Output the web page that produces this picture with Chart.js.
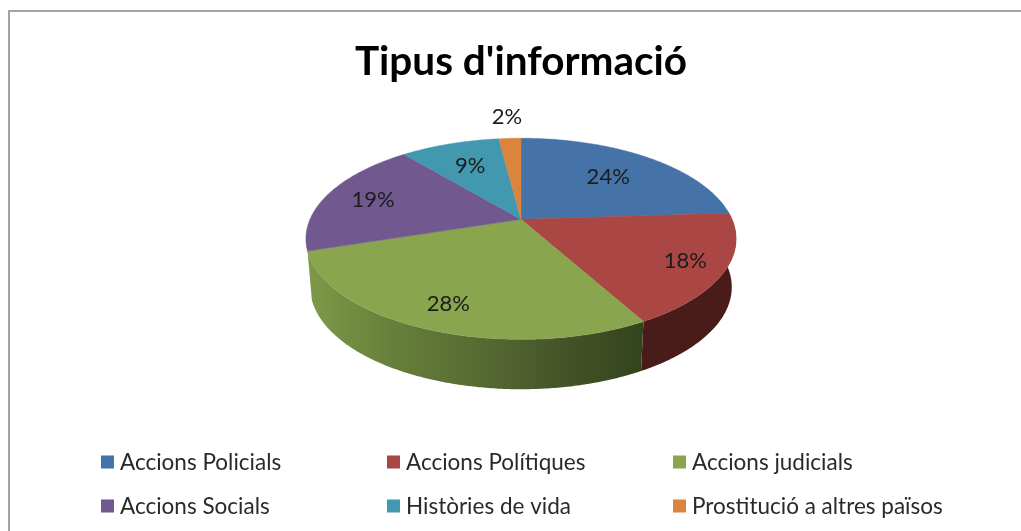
<!DOCTYPE html>
<html>
<head>
<meta charset="utf-8">
<title>Tipus d'informació</title>
<script src="https://cdn.jsdelivr.net/npm/chart.js@4"></script>
<style>
  html, body { margin: 0; padding: 0; background: #fff; overflow: hidden; }
  #wrap { position: relative; width: 1021px; height: 531px; overflow: hidden; filter: blur(0.4px); }
  #frame { position: absolute; left: 8px; top: 10px; right: -4px; bottom: -4px;
           border: 2px solid #a3a3a3; pointer-events: none; }
</style>
</head>
<body>
<div id="wrap">
  <canvas id="chart" width="1021" height="531"></canvas>
  <div id="frame"></div>
</div>
<script>
const chartTitle = "Tipus d'informació";
const categories = ["Accions Policials", "Accions Polítiques", "Accions judicials",
                    "Accions Socials", "Històries de vida", "Prostitució a altres països"];
const values = [24, 18, 28, 19, 9, 2];
const colors = ["#4572A7", "#AA4643", "#89A54E", "#71588F", "#4198AF", "#DB843D"];
const wallColors = [
  ["#2a4568", "#2a4568"],
  ["#4a1c19", "#4a1c19"],
  ["#7e9a48", "#66803b", "#586b32", "#465429", "#33431c"],
  ["#46365a", "#46365a"],
  ["#285f6e", "#285f6e"],
  ["#8a5326", "#8a5326"]
];
// how far out each label sits along its slice (1 = rim)
const labelRadius = [0.66, 0.82, 0.8, 0.76, 0.68, 1.33];

// perspective of the tilted pie, relative to the library's arc radius
const PERSP = -0.194;
const TOP_FACE = { scale: 1, tilt: 0.257, drop: 0 };
const BOTTOM_FACE = { scale: 0.98, tilt: 0.22, drop: 48 };

function project(arc, angle, t, face) {
  const u = Math.cos(angle) * t, v = Math.sin(angle) * t;
  const w = 1 + PERSP * v;
  return {
    x: arc.x + arc.outerRadius * face.scale * u / w,
    y: (arc.y + face.drop + arc.outerRadius * face.tilt * v) / w
  };
}

function traceRim(ctx, arc, from, to, face) {
  const steps = Math.max(2, Math.ceil(Math.abs(to - from) / 0.01));
  for (let i = 0; i <= steps; i++) {
    const p = project(arc, from + (to - from) * i / steps, 1, face);
    ctx.lineTo(p.x, p.y);
  }
}

const pie3d = {
  id: "pie3d",
  beforeDatasetDraw(chart) {
    const ctx = chart.ctx;
    const arcs = chart.getDatasetMeta(0).data;
    ctx.save();
    // side wall only for the slices facing the viewer
    arcs.forEach((arc, i) => {
      if (Math.sin((arc.startAngle + arc.endAngle) / 2) <= 0) return;
      const a = project(arc, arc.startAngle, 1, TOP_FACE);
      const b = project(arc, arc.endAngle, 1, TOP_FACE);
      const x0 = Math.min(a.x, b.x), x1 = Math.max(a.x, b.x);
      const grad = ctx.createLinearGradient(x0, 0, x1 + 1, 0);
      wallColors[i].forEach((c, k) => grad.addColorStop(k / (wallColors[i].length - 1), c));
      ctx.beginPath();
      traceRim(ctx, arc, arc.startAngle, arc.endAngle, TOP_FACE);
      traceRim(ctx, arc, arc.endAngle, arc.startAngle, BOTTOM_FACE);
      ctx.closePath();
      ctx.fillStyle = grad;
      ctx.fill();
    });
    arcs.forEach((arc, i) => {
      const c = project(arc, 0, 0, TOP_FACE);
      ctx.beginPath();
      ctx.moveTo(c.x, c.y);
      traceRim(ctx, arc, arc.startAngle, arc.endAngle, TOP_FACE);
      ctx.closePath();
      ctx.fillStyle = colors[i];
      ctx.strokeStyle = colors[i];
      ctx.lineWidth = 0.5;
      ctx.fill();
      ctx.stroke();
    });
    ctx.restore();
    return false;
  },
  afterDatasetsDraw(chart) {
    const ctx = chart.ctx;
    const arcs = chart.getDatasetMeta(0).data;
    const total = values.reduce((s, v) => s + v, 0);
    ctx.save();
    ctx.font = "22px Lato";
    ctx.fillStyle = "#1c1c1c";
    ctx.textAlign = "center";
    ctx.textBaseline = "middle";
    arcs.forEach((arc, i) => {
      const mid = (arc.startAngle + arc.endAngle) / 2;
      const p = project(arc, mid, labelRadius[i], TOP_FACE);
      ctx.fillText(Math.round(values[i] / total * 100) + "%", p.x, p.y);
    });
    ctx.restore();
  },
  afterDraw(chart) {
    // legend in three aligned columns, which the built in one can't do
    const ctx = chart.ctx;
    ctx.save();
    ctx.font = "22.5px Lato";
    ctx.textBaseline = "middle";
    categories.forEach((name, i) => {
      const x = 101 + (i % 3) * 286;
      const y = 462 + Math.floor(i / 3) * 44;
      ctx.fillStyle = colors[i];
      ctx.fillRect(x, y - 6.5, 13, 13);
      ctx.fillStyle = "#2a2a2a";
      ctx.fillText(name, x + 19, y + 1);
    });
    ctx.restore();
  }
};

new Chart(document.getElementById("chart"), {
  type: "pie",
  data: {
    labels: categories,
    datasets: [{ data: values, backgroundColor: colors, borderWidth: 0 }]
  },
  options: {
    responsive: false,
    animation: false,
    radius: 211,
    layout: { padding: { left: 21, bottom: 183 } },
    plugins: {
      legend: { display: false },
      tooltip: { enabled: false },
      title: {
        display: true,
        text: chartTitle,
        color: "#000",
        fullSize: false,
        font: { family: "Lato", size: 40.5, weight: "bold" },
        padding: { top: 38, bottom: 4 }
      }
    }
  },
  plugins: [pie3d]
});
</script>
</body>
</html>
